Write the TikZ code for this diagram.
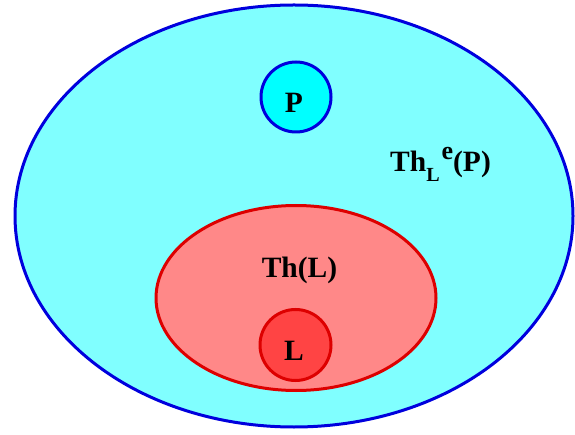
\documentclass[tikz,border=0pt]{standalone}
\usepackage{fontspec}
\setmainfont{Liberation Serif}
\usetikzlibrary{shapes.geometric}
\definecolor{lcyan}{HTML}{80FFFF}
\definecolor{dcyan}{HTML}{00FFFF}
\definecolor{bstroke}{HTML}{0000DD}
\definecolor{rstroke}{HTML}{DD0000}
\definecolor{lred}{HTML}{FF8888}
\definecolor{mred}{HTML}{FF4444}
\tikzset{
  blob/.style={draw, line width=3pt, inner sep=0pt, outer sep=0pt},
  lab/.style={font=\fontsize{29.5}{32}\selectfont\bfseries, inner sep=0pt, anchor=base}
}
\begin{document}
\begin{tikzpicture}[x=1pt,y=-1pt]
\useasboundingbox (0,0) rectangle (575,435);
\node[blob, ellipse, fill=lcyan, draw=bstroke, minimum width=558pt, minimum height=422pt] (big) at (294,216) {};
\node[blob, circle, fill=dcyan, draw=bstroke, minimum size=70pt] (p) at (296,97) {};
\node[blob, ellipse, fill=lred, draw=rstroke, minimum width=280pt, minimum height=185pt] (thl) at (296,298) {};
\node[blob, circle, fill=mred, draw=rstroke, minimum size=71pt] (l) at (295.5,345) {};
\node[lab] (plab) at (294,113) {P};
\node[lab] (llab) at (294,360) {L};
\node[lab] (thllab) at (299.5,278) {Th(L)};
\node[lab, anchor=base west] (thle) at (390,172) {Th\raisebox{-10pt}{\fontsize{20}{20}\selectfont L}\hspace{2pt}\raisebox{12pt}{\fontsize{26}{26}\selectfont e}(P)};
\end{tikzpicture}
\end{document}
